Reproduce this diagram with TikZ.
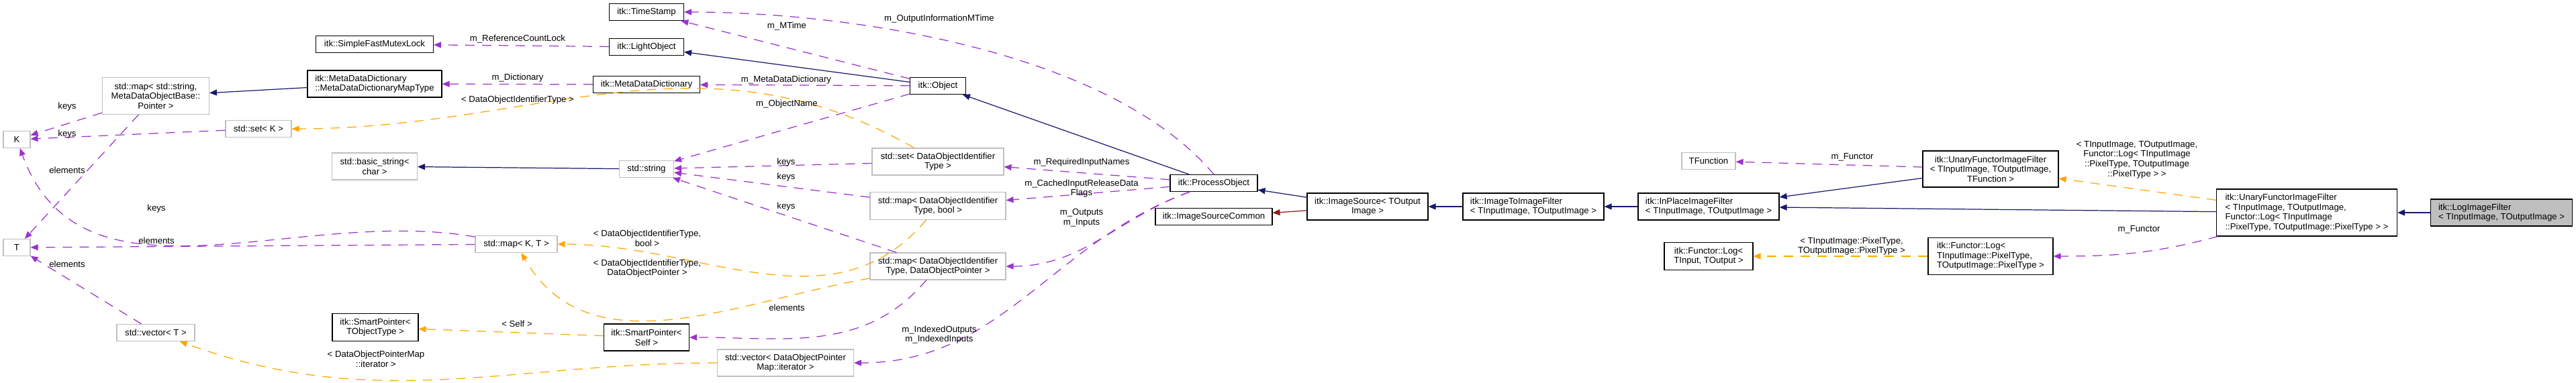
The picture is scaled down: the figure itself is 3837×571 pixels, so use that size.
\documentclass[tikz,border=0pt]{standalone}
\usepackage{fontspec}
\setmainfont{Liberation Sans}
\usetikzlibrary{arrows.meta}
\definecolor{inhcol}{HTML}{191970}
\definecolor{usecol}{HTML}{9A32CD}
\definecolor{tplcol}{HTML}{FFA500}
\definecolor{prvcol}{HTML}{8B1A1A}
\definecolor{grayline}{HTML}{BFBFBF}
\tikzset{
  every node/.style={font=\fontsize{3.75}{4.15}\selectfont, inner sep=0pt},
  cls/.style={draw=black, line width=0.3pt, minimum height=2.5mm, inner xsep=0.8mm},
  ext/.style={draw=grayline, line width=0.3pt, minimum height=2.5mm, inner xsep=0.8mm},
  cur/.style={cls, fill=black!25},
  lbl/.style={align=center},
  tip/.style={-{Triangle[length=1.1mm,width=0.9mm]}},
  inh/.style={tip, draw=inhcol, line width=0.35pt},
  prv/.style={tip, draw=prvcol, line width=0.35pt},
  use/.style={tip, draw=usecol, line width=0.35pt, dash pattern=on 1.4mm off 1.1mm},
  tpl/.style={tip, draw=tplcol, line width=0.35pt, dash pattern=on 1.4mm off 1.1mm},
}
\begin{document}
\begin{tikzpicture}[x=0.1mm,y=-0.1mm]
\useasboundingbox (0,0) rectangle (3837,571);

% classes
\node[cls, minimum width=17.5mm] (SFML) at (558,66) {itk::SimpleFastMutexLock};
\node[cls, minimum width=20mm, minimum height=4mm, align=left] (MDDMap) at (558,125) {itk::MetaDataDictionary\\::MetaDataDictionaryMapType};
\node[ext, minimum width=15.9mm, minimum height=5.5mm, align=center] (mapStr) at (232,143) {std::map< std::string,\\MetaDataObjectBase::\\Pointer >};
\node[ext, minimum width=4mm] (K) at (25,208) {K};
\node[ext, minimum width=9.8mm] (setK) at (385,192) {std::set< K >};
\node[ext, minimum width=12.7mm, minimum height=4mm, align=center] (bstr) at (558,248) {std::basic\_string<\\char >};
\node[ext, minimum width=4mm] (T) at (25,369) {T};
\node[ext, minimum width=11.6mm] (vecT) at (232,496) {std::vector< T >};
\node[cls, minimum width=12.8mm, minimum height=4.1mm, align=center] (spObj) at (559,488) {itk::SmartPointer<\\TObjectType >};

\node[cls, minimum width=11.1mm] (tstamp) at (963,18) {itk::TimeStamp};
\node[cls, minimum width=11.1mm] (light) at (963,70) {itk::LightObject};
\node[cls, minimum width=15.9mm] (mdd) at (963,126) {itk::MetaDataDictionary};
\node[ext, minimum width=8.1mm] (str) at (963,252) {std::string};
\node[ext, minimum width=12.2mm] (mapKT) at (769,364) {std::map< K, T >};
\node[cls, minimum width=12.7mm, minimum height=4mm, align=center] (spSelf) at (963,503) {itk::SmartPointer<\\Self >};
\node[ext, minimum width=20.3mm, minimum height=4mm, align=center] (vecMap) at (1170,541) {std::vector< DataObjectPointer\\Map::iterator >};

\node[cls, minimum width=8.3mm] (obj) at (1397,128) {itk::Object};
\node[ext, minimum width=19.6mm, minimum height=4mm, align=center] (setId) at (1397,241) {std::set< DataObjectIdentifier\\Type >};
\node[ext, minimum width=20.2mm, minimum height=4.1mm, align=center] (mapBool) at (1397,307) {std::map< DataObjectIdentifier\\Type, bool >};
\node[ext, minimum width=20.2mm, minimum height=4mm, align=center] (mapPtr) at (1397,397) {std::map< DataObjectIdentifier\\Type, DataObjectPointer >};
\node[cls, minimum width=13mm] (proc) at (1808,273) {itk::ProcessObject};
\node[cls, minimum width=17.4mm] (srcCommon) at (1808,323) {itk::ImageSourceCommon};
\node[cls, minimum width=18mm, minimum height=4mm, align=center] (src) at (2037,308) {itk::ImageSource< TOutput\\Image >};

\node[cls, minimum width=21mm, minimum height=4mm, align=left] (i2i) at (2284,308) {itk::ImageToImageFilter\\< TInputImage, TOutputImage >};
\node[cls, minimum width=21mm, minimum height=4mm, align=left] (inplace) at (2545,308) {itk::InPlaceImageFilter\\< TInputImage, TOutputImage >};
\node[ext, minimum width=8mm] (tfunc) at (2545,240) {TFunction};
\node[cls, minimum width=13.2mm, minimum height=4.1mm, align=center] (logIO) at (2545,382) {itk::Functor::Log<\\TInput, TOutput >};

\node[cls, minimum width=20.2mm, minimum height=5.4mm, align=center] (ufif) at (2965,252) {itk::UnaryFunctorImageFilter\\< TInputImage, TOutputImage,\\TFunction >};
\node[cls, minimum width=18.6mm, minimum height=5.5mm, align=left] (logPix) at (2965,382) {itk::Functor::Log<\\ TInputImage::PixelType,\\ TOutputImage::PixelType >};
\node[cls, minimum width=26.9mm, minimum height=7mm, align=left] (ufifLog) at (3436,317) {itk::UnaryFunctorImageFilter\\< TInputImage, TOutputImage,\\ Functor::Log< TInputImage\\::PixelType, TOutputImage::PixelType > >};
\node[cur, minimum width=21.1mm, minimum height=4mm, align=left] (logF) at (3726,317) {itk::LogImageFilter\\< TInputImage, TOutputImage >};

% inheritance
\draw[inh] (logF) -- (ufifLog);
\draw[inh] (ufifLog) -- (inplace);
\draw[inh] (ufif) -- (inplace);
\draw[inh] (inplace) -- (i2i);
\draw[inh] (i2i) -- (src);
\draw[inh] (src) -- (proc);
\draw[prv] (src) -- (srcCommon);
\draw[inh] (proc) -- (obj);
\draw[inh] (obj) -- (light);
\draw[inh] (str) -- (bstr);
\draw[inh] (MDDMap) -- (mapStr);

% members
\draw[use] (obj) -- (tstamp);
\draw[use] (proc.north) to[out=130,in=0,looseness=0.75] (tstamp);
\draw[use] (light) -- (SFML);
\draw[use] (obj) -- (mdd);
\draw[use] (mdd) -- (MDDMap);
\draw[use] (obj) -- (str);
\draw[use] (setId) -- (str);
\draw[use] (mapBool) -- (str);
\draw[use] (mapPtr) -- (str);
\draw[use] (proc) -- (setId);
\draw[use] (proc) -- (mapBool);
\draw[use] (proc) to[out=200,in=0] (mapPtr);
\draw[use] (proc) to[out=200,in=0] (vecMap);
\draw[use] (mapPtr) to[out=230,in=0] (spSelf);
\draw[use] (mapStr) -- (K);
\draw[use] (setK) -- (K);
\draw[use] (mapKT) to[out=170,in=290] (K);
\draw[use] (mapStr) -- (T);
\draw[use] (mapKT) -- (T);
\draw[use] (vecT) -- (T);
\draw[use] (ufif) -- (tfunc);
\draw[use] (ufifLog) to[out=195,in=0] (logPix);

% templates
\draw[tpl] (setId) to[out=150,in=0] (setK);
\draw[tpl] (mapBool) to[out=230,in=0] (mapKT);
\draw[tpl] (mapPtr) to[out=190,in=300] (mapKT);
\draw[tpl] (spSelf) -- (spObj);
\draw[tpl] (vecMap) to[out=180,in=340] (vecT);
\draw[tpl] (logPix) -- (logIO);
\draw[tpl] (ufifLog) -- (ufif);

% labels
\node[lbl] (l1) at (100,159) {keys};
\node[lbl] (l2) at (100,200) {keys};
\node[lbl] (l3) at (100,254) {elements};
\node[lbl] (l4) at (233,311) {keys};
\node[lbl] (l5) at (233,359) {elements};
\node[lbl] (l6) at (100,394) {elements};
\node[lbl] (l7) at (560,535) {< DataObjectPointerMap\\::iterator >};
\node[lbl] (l8) at (771,58) {m\_ReferenceCountLock};
\node[lbl] (l9) at (771,116) {m\_Dictionary};
\node[lbl] (l10) at (771,149) {< DataObjectIdentifierType >};
\node[lbl] (l11) at (1172,39) {m\_MTime};
\node[lbl] (l12) at (1171,119) {m\_MetaDataDictionary};
\node[lbl] (l13) at (1172,155) {m\_ObjectName};
\node[lbl] (l14) at (1171,242) {keys};
\node[lbl] (l15) at (1171,264) {keys};
\node[lbl] (l16) at (1171,308) {keys};
\node[lbl] (l17) at (964,355) {< DataObjectIdentifierType,\\bool >};
\node[lbl] (l18) at (964,400) {< DataObjectIdentifierType,\\DataObjectPointer >};
\node[lbl] (l19) at (1172,459) {elements};
\node[lbl] (l20) at (770,483) {< Self >};
\node[lbl] (l21) at (1399,28) {m\_OutputInformationMTime};
\node[lbl] (l22) at (1611,242) {m\_RequiredInputNames};
\node[lbl] (l23) at (1611,281) {m\_CachedInputReleaseData\\Flags};
\node[lbl] (l24) at (1611,325) {m\_Outputs\\m\_Inputs};
\node[lbl] (l25) at (1399,499) {m\_IndexedOutputs\\m\_IndexedInputs};
\node[lbl] (l26) at (2759,234) {m\_Functor};
\node[lbl] (l27) at (3183,238) {< TInputImage, TOutputImage,\\Functor::Log< TInputImage\\::PixelType, TOutputImage\\::PixelType > >};
\node[lbl] (l28) at (3186,342) {m\_Functor};
\node[lbl] (l29) at (2758,367) {< TInputImage::PixelType,\\TOutputImage::PixelType >};
\end{tikzpicture}
\end{document}
